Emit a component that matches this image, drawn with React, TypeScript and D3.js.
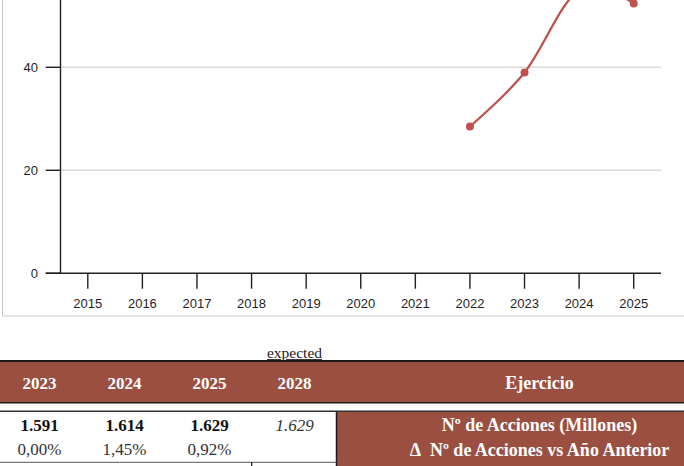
import React from "react";
import * as d3 from "d3";

const years = ["2015", "2016", "2017", "2018", "2019", "2020", "2021", "2022", "2023", "2024", "2025"];
const seriesYears = ["2022", "2023", "2024", "2025"];
const seriesValues = [28.5, 39, 55, 52.4];
const yTicks = [0, 20, 40];

const headerLabels = ["2023", "2024", "2025", "2028"];
const sharesRow = ["1.591", "1.614", "1.629", "1.629"];
const changeRow = ["0,00%", "1,45%", "0,92%", ""];
const headerTitle = "Ejercicio";
const rowTitles = ["Nº de Acciones (Millones)", "Δ\u00a0 Nº de Acciones vs Año Anterior"];
const expectedLabel = "expected";

const W = 684;
const H = 466;
const BROWN = "#9B4F41";
const RED = "#C0504D";
const SERIF = "'Liberation Serif', 'DejaVu Serif', serif";
const SANS = "'Liberation Sans', Arial, sans-serif";

export default function App() {
  const x = d3.scaleBand<string>().domain(years).range([60.5, 661]).padding(0);
  const y = d3.scaleLinear().domain([0, 60]).range([273.3, 273.3 - 309]);
  const cx = (yr: string) => (x(yr) as number) + x.bandwidth() / 2;

  const pts: [number, number][] = seriesYears.map((yr, i) => [cx(yr), y(seriesValues[i])]);
  const line = d3.line<[number, number]>().curve(d3.curveCardinal.tension(0))(pts) || "";

  const colX = d3.scaleLinear().domain([0, 3]).range([39.5, 294.5]);

  return (
    <div style={{ position: "absolute", left: 0, top: 0, width: W, height: H }}>
      <svg width={W} height={H} style={{ display: "block" }}>
        <rect x={0} y={0} width={W} height={H} fill="#fff" />
        {/* chart frame */}
        <line x1={2.5} y1={0} x2={2.5} y2={316} stroke="#c8c8c8" strokeWidth={1} />
        <line x1={2.5} y1={316} x2={W} y2={316} stroke="#c8c8c8" strokeWidth={1} />

        {/* gridlines */}
        {yTicks.filter((t) => t > 0).map((t) => (
          <line key={"g" + t} x1={60.5} x2={661} y1={y(t)} y2={y(t)} stroke="#d9d9d9" strokeWidth={1.5} />
        ))}

        {/* axes */}
        <line x1={60.5} x2={60.5} y1={0} y2={y(0)} stroke="#1f1f1f" strokeWidth={1.4} />
        <line x1={45.7} x2={661} y1={y(0)} y2={y(0)} stroke="#1f1f1f" strokeWidth={1.4} />
        {yTicks.map((t) => (
          <g key={"yt" + t}>
            <line x1={45.7} x2={60.5} y1={y(t)} y2={y(t)} stroke="#1f1f1f" strokeWidth={1.4} />
            <text x={38} y={y(t)} dy="0.35em" textAnchor="end" fontFamily={SANS} fontSize={13} fill="#1f1f1f">
              {t}
            </text>
          </g>
        ))}
        {years.map((yr) => (
          <g key={"xt" + yr}>
            <line x1={cx(yr)} x2={cx(yr)} y1={y(0)} y2={288.7} stroke="#1f1f1f" strokeWidth={1.4} />
            <text x={cx(yr)} y={303} dy="0.35em" textAnchor="middle" fontFamily={SANS} fontSize={13} fill="#1f1f1f">
              {yr}
            </text>
          </g>
        ))}

        {/* series */}
        <path d={line} fill="none" stroke={RED} strokeWidth={2.25} />
        {pts.map((p, i) => (
          <circle key={"p" + i} cx={p[0]} cy={p[1]} r={4} fill={RED} />
        ))}

        {/* table */}
        <text x={294.5} y={352.7} dy="0.35em" textAnchor="middle" fontFamily={SERIF} fontSize={15.5} fill="#222" textDecoration="underline">
          {expectedLabel}
        </text>
        <rect x={0} y={361} width={W} height={41.7} fill={BROWN} />
        <line x1={0} x2={W} y1={361} y2={361} stroke="#1a1a1a" strokeWidth={2} />
        <line x1={0} x2={W} y1={402.7} y2={402.7} stroke="#1a1a1a" strokeWidth={1.5} />
        {headerLabels.map((h, i) => (
          <text key={"h" + i} x={colX(i)} y={382.7} dy="0.35em" textAnchor="middle" fontFamily={SERIF} fontSize={17} fontWeight="bold" fill="#fff">
            {h}
          </text>
        ))}
        <text x={539.5} y={382.7} dy="0.35em" textAnchor="middle" fontFamily={SERIF} fontSize={18} fontWeight="bold" fill="#fff">
          {headerTitle}
        </text>

        <rect x={336.5} y={411.3} width={W - 336.5} height={H - 411.3} fill={BROWN} />
        <line x1={0} x2={W} y1={411.3} y2={411.3} stroke="#333" strokeWidth={1.5} />
        <line x1={336.5} x2={336.5} y1={411.3} y2={H} stroke="#1a1a1a" strokeWidth={1.5} />
        <line x1={0} x2={336.5} y1={462.3} y2={462.3} stroke="#555" strokeWidth={1} />
        <line x1={251.7} x2={251.7} y1={462.3} y2={H} stroke="#1a1a1a" strokeWidth={1.25} />

        {sharesRow.map((v, i) => (
          <text
            key={"s" + i}
            x={colX(i)}
            y={425}
            dy="0.35em"
            textAnchor="middle"
            fontFamily={SERIF}
            fontSize={17}
            fontWeight={i < 3 ? "bold" : "normal"}
            fontStyle={i < 3 ? "normal" : "italic"}
            fill={i < 3 ? "#111" : "#333"}
          >
            {v}
          </text>
        ))}
        {changeRow.map((v, i) => (
          <text key={"c" + i} x={colX(i)} y={449} dy="0.35em" textAnchor="middle" fontFamily={SERIF} fontSize={17} fill="#333">
            {v}
          </text>
        ))}
        {rowTitles.map((t, i) => (
          <text key={"r" + i} x={539.5} y={i === 0 ? 425 : 449.3} dy="0.35em" textAnchor="middle" fontFamily={SERIF} fontSize={18} fontWeight="bold" fill="#fff">
            {t}
          </text>
        ))}
      </svg>
    </div>
  );
}
